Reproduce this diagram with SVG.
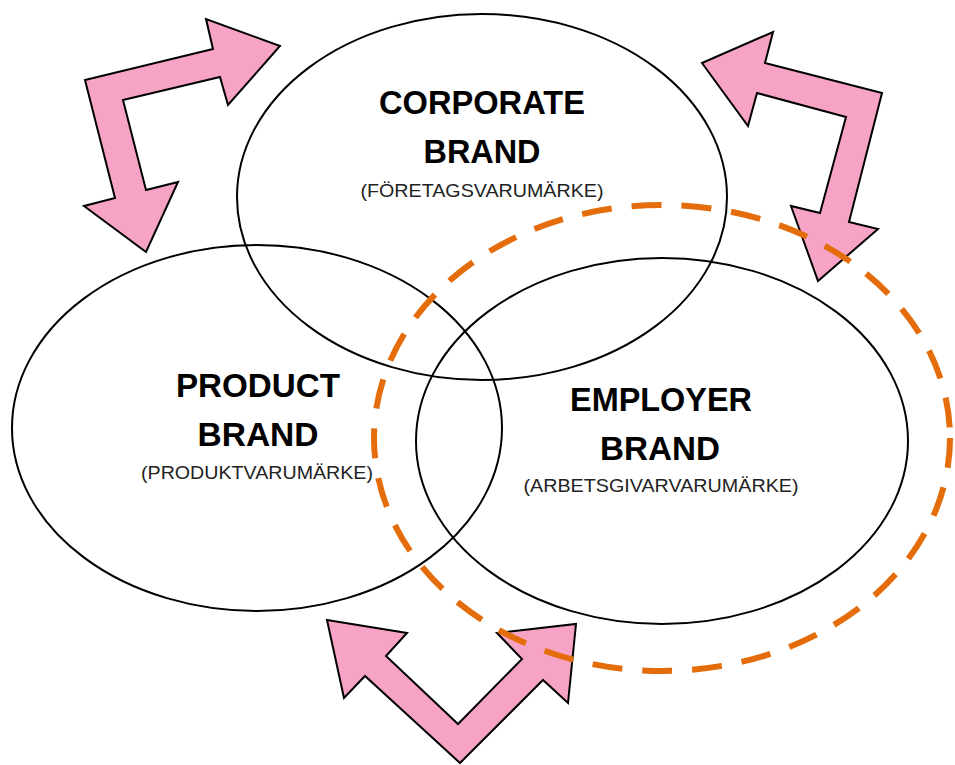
<svg xmlns="http://www.w3.org/2000/svg" width="955" height="765" viewBox="0 0 955 765">
<style>
.ell{fill:none;stroke:#000;stroke-width:2}
.dash{fill:none;stroke:#E46C0A;stroke-width:6;stroke-dasharray:30 20}
.arr{fill:#F7A3C5;stroke:#000;stroke-width:2;stroke-linejoin:miter}
.t{font-family:"Liberation Sans",Arial,sans-serif;font-weight:bold;font-size:33px;fill:#000;text-anchor:middle}
.s{font-family:"Liberation Sans",Arial,sans-serif;font-size:18px;fill:#222;text-anchor:middle}
</style>
<rect width="955" height="765" fill="#fff"/>
<g id="corporate">
<ellipse class="ell" cx="482" cy="197" rx="245" ry="183"/>
<text class="t" x="482" y="114" textLength="206" lengthAdjust="spacingAndGlyphs">CORPORATE</text>
<text class="t" x="482" y="163" textLength="117" lengthAdjust="spacingAndGlyphs">BRAND</text>
<text class="s" x="482" y="197" textLength="243" lengthAdjust="spacingAndGlyphs">(FÖRETAGSVARUMÄRKE)</text>
</g>
<g id="product">
<ellipse class="ell" cx="257" cy="428" rx="245" ry="183"/>
<text class="t" x="258" y="397" textLength="164" lengthAdjust="spacingAndGlyphs">PRODUCT</text>
<text class="t" x="258" y="446" textLength="121" lengthAdjust="spacingAndGlyphs">BRAND</text>
<text class="s" x="257" y="479" textLength="232" lengthAdjust="spacingAndGlyphs">(PRODUKTVARUMÄRKE)</text>
</g>
<g id="employer">
<ellipse class="ell" cx="662" cy="441" rx="246" ry="183"/>
<text class="t" x="661" y="411" textLength="182" lengthAdjust="spacingAndGlyphs">EMPLOYER</text>
<text class="t" x="660" y="460" textLength="120" lengthAdjust="spacingAndGlyphs">BRAND</text>
<text class="s" x="661" y="492" textLength="275" lengthAdjust="spacingAndGlyphs">(ARBETSGIVARVARUMÄRKE)</text>
</g>
<g id="connectors">
<polygon class="arr" points="280,46 206,19 213,49 85,80 115,198 84,206 146,252 178,182 146,190 123,100 220,77 228,105"/>
<polygon class="arr" points="702,63 773,32 765,63 882,93 849,222 878,229 818,281 791,206 820,213 846,117 757,93 748,126"/>
<polygon class="arr" points="327,620 407,633 386,656 458,724 522,659 497,633 576,624 568,703 543,680 460,763 365,676 344,698"/>
</g>
<g id="employer-scope">
<ellipse class="dash" cx="662" cy="438" rx="288" ry="233"/>
</g>
</svg>
